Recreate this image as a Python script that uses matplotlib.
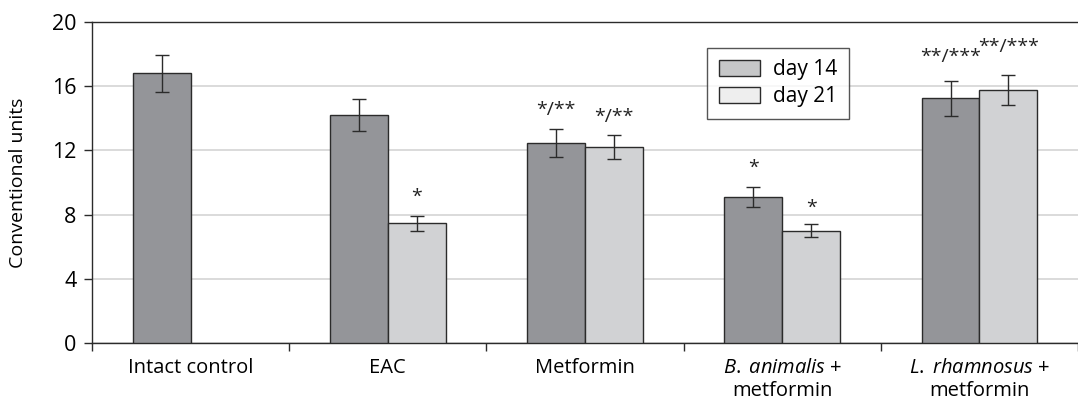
import matplotlib
matplotlib.use('Agg')
import matplotlib.pyplot as plt
from matplotlib.patches import Patch
import numpy as np

plt.rcParams['font.family'] = ['Open Sans', 'DejaVu Sans']
plt.rcParams['mathtext.fontset'] = 'custom'
plt.rcParams['mathtext.it'] = 'Open Sans:italic'
plt.rcParams['mathtext.rm'] = 'Open Sans'

groups = ['Intact control', 'EAC', 'Metformin',
          r'$\mathit{B.\;animalis}$ +' + '\nmetformin',
          r'$\mathit{L.\;rhamnosus}$ +' + '\nmetformin']
day14 = [16.8, 14.2, 12.45, 9.1, 15.25]
day14_err = [1.15, 1.0, 0.88, 0.62, 1.1]
day21 = [np.nan, 7.45, 12.2, 7.0, 15.75]
day21_err = [np.nan, 0.47, 0.74, 0.4, 0.95]
marks14 = ['', '', '*/**', '*', '**/***']
marks21 = ['', '*', '*/**', '*', '**/***']

dark = '#949599'
light = '#d1d2d4'
edge = '#2b2b2b'

fig = plt.figure(figsize=(10.78, 4.07), dpi=100)
ax = fig.add_axes([0.0853, 0.157, 0.9147, 0.789])

x = np.arange(len(groups))
w = 0.293
ax.bar(x - w / 2, day14, w, color=dark, edgecolor=edge, linewidth=1.0, zorder=3)
ax.bar(x + w / 2, day21, w, color=light, edgecolor=edge, linewidth=1.0, zorder=3)
ax.errorbar(x - w / 2, day14, yerr=day14_err, fmt='none', ecolor=edge,
            elinewidth=1.0, capsize=5, capthick=1.0, zorder=4)
ax.errorbar(x + w / 2, day21, yerr=day21_err, fmt='none', ecolor=edge,
            elinewidth=1.0, capsize=5, capthick=1.0, zorder=4)

offs14 = [0, 0, 0.6, 0.65, 0.9]
offs21 = [0, 0.65, 0.6, 0.45, 1.15]
for i in range(len(groups)):
    if marks14[i]:
        ax.text(x[i] - w / 2, day14[i] + day14_err[i] + offs14[i], marks14[i],
                ha='center', va='bottom', fontsize=14, color='#222222')
    if marks21[i]:
        ax.text(x[i] + w / 2, day21[i] + day21_err[i] + offs21[i], marks21[i],
                ha='center', va='bottom', fontsize=14, color='#222222')

ax.set_ylim(0, 20)
ax.set_xlim(-0.5, 4.48)
ax.set_yticks([0, 4, 8, 12, 16, 20])
ax.tick_params(axis='y', labelsize=15.5, length=6, width=1, direction='out',
               color=edge, pad=5)
ax.set_xticks(x)
ax.set_xticklabels(groups, fontsize=14.5, linespacing=1.2)
ax.tick_params(axis='x', length=0, pad=11)
ax.set_xticks(np.arange(-0.5, 4.6, 1), minor=True)
ax.tick_params(axis='x', which='minor', length=6, width=1, color=edge)
ax.set_ylabel('Conventional units', fontsize=14)
ax.yaxis.set_label_coords(-0.066, 0.5)

ax.yaxis.grid(True, color='#d4d4d4', linewidth=1.2, zorder=0)
ax.set_axisbelow(True)
for s in ['left', 'bottom', 'top']:
    ax.spines[s].set_color(edge)
    ax.spines[s].set_linewidth(1.0)
ax.spines['right'].set_visible(False)

handles = [Patch(facecolor='#c6c7c8', edgecolor=edge, label='day 14'),
           Patch(facecolor='#eeeeee', edgecolor=edge, label='day 21')]
leg = ax.legend(handles=handles, loc='upper left', bbox_to_anchor=(0.624, 0.92),
                fontsize=15, frameon=True, fancybox=False, edgecolor=edge,
                handlelength=2.0, handleheight=0.8, borderpad=0.55,
                labelspacing=0.3, borderaxespad=0, handletextpad=0.6)
leg.get_frame().set_linewidth(1.0)

fig.savefig('out.png', dpi=100)
